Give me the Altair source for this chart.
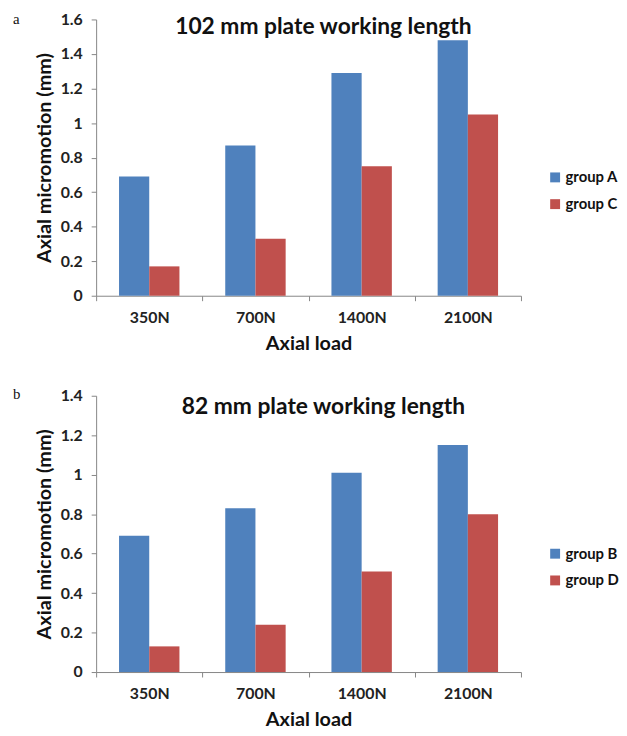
import altair as alt
import pandas as pd

loads = ["350N", "700N", "1400N", "2100N"]
group_a = [0.69, 0.87, 1.29, 1.48]
group_c = [0.17, 0.33, 0.75, 1.05]
group_b = [0.69, 0.83, 1.01, 1.15]
group_d = [0.13, 0.24, 0.51, 0.80]

BLUE = "#4F81BD"
RED = "#C0504D"
FONT = "Lato"
AXIS_COLOR = "#868686"
W, H = 429, 279
BAR_W = 30.5


def panel(title, letter, names, s1, s2, ymax, title_y, letter_y, legend_y):
    df1 = pd.DataFrame({"load": loads, "group": [names[0]] * len(loads), "value": s1})
    df2 = pd.DataFrame({"load": loads, "group": [names[1]] * len(loads), "value": s2})
    ticks = [round(i * 0.2, 1) for i in range(int(round(ymax / 0.2)) + 1)]
    x = alt.X("load:N", sort=loads,
              scale=alt.Scale(paddingInner=0, paddingOuter=0),
              axis=alt.Axis(title="Axial load", labelAngle=0, tickBand="extent",
                            tickSize=5, labelPadding=9, titlePadding=8,
                            labelFont=FONT, labelFontSize=16, labelFontWeight="bold",
                            labelColor="#222", titleFont=FONT, titleFontSize=20,
                            titleFontWeight="bold", titleColor="#111",
                            domainColor=AXIS_COLOR, tickColor=AXIS_COLOR))
    y = alt.Y("value:Q", scale=alt.Scale(domain=[0, ymax], nice=False),
              axis=alt.Axis(title="Axial micromotion (mm)", values=ticks, format="~g",
                            grid=False, tickSize=5, labelPadding=9, titlePadding=6,
                            labelFont=FONT, labelFontSize=16, labelFontWeight="bold",
                            labelColor="#222", titleFont=FONT, titleFontSize=20,
                            titleFontWeight="bold", titleColor="#111",
                            domainColor=AXIS_COLOR, tickColor=AXIS_COLOR))
    color = alt.Color("group:N", scale=alt.Scale(domain=names, range=[BLUE, RED]),
                      legend=alt.Legend(title=None, orient="none", legendX=456, legendY=legend_y,
                                        symbolType="square", symbolSize=100,
                                        symbolStrokeWidth=0, labelFont=FONT,
                                        labelFontSize=15, labelFontWeight="bold",
                                        labelColor="#111", labelOffset=3, rowPadding=11))
    b1 = alt.Chart(df1).mark_bar(width=BAR_W, xOffset=-BAR_W / 2).encode(x=x, y=y, color=color)
    b2 = alt.Chart(df2).mark_bar(width=BAR_W, xOffset=BAR_W / 2).encode(x=x, y=y, color=color)
    ttl = alt.Chart(pd.DataFrame({"t": [title]})).mark_text(
        font=FONT, fontSize=23, fontWeight="bold", align="center", baseline="alphabetic",
        color="#111"
    ).encode(text="t:N", x=alt.value(W / 2 + 15), y=alt.value(title_y))
    lab = alt.Chart(pd.DataFrame({"t": [letter]})).mark_text(
        font="Liberation Serif", fontSize=15, align="left", baseline="alphabetic", color="#111"
    ).encode(text="t:N", x=alt.value(-84), y=alt.value(letter_y))
    return alt.layer(b1, b2, ttl, lab).properties(width=W, height=H)


top = panel("102 mm plate working length", "a", ["group A", "group C"], group_a, group_c,
            1.6, 15, 5, 152)
bottom = panel("82 mm plate working length", "b", ["group B", "group D"], group_b, group_d,
               1.4, 18, 3, 152)

chart = alt.vconcat(top, bottom, spacing=34).resolve_scale(color="independent").resolve_legend(
    color="independent"
).configure_view(stroke=None).properties(padding={"left": 5, "top": 0, "right": 0, "bottom": 0})

chart.save("out.html", embed_options={"renderer": "svg", "actions": False})
